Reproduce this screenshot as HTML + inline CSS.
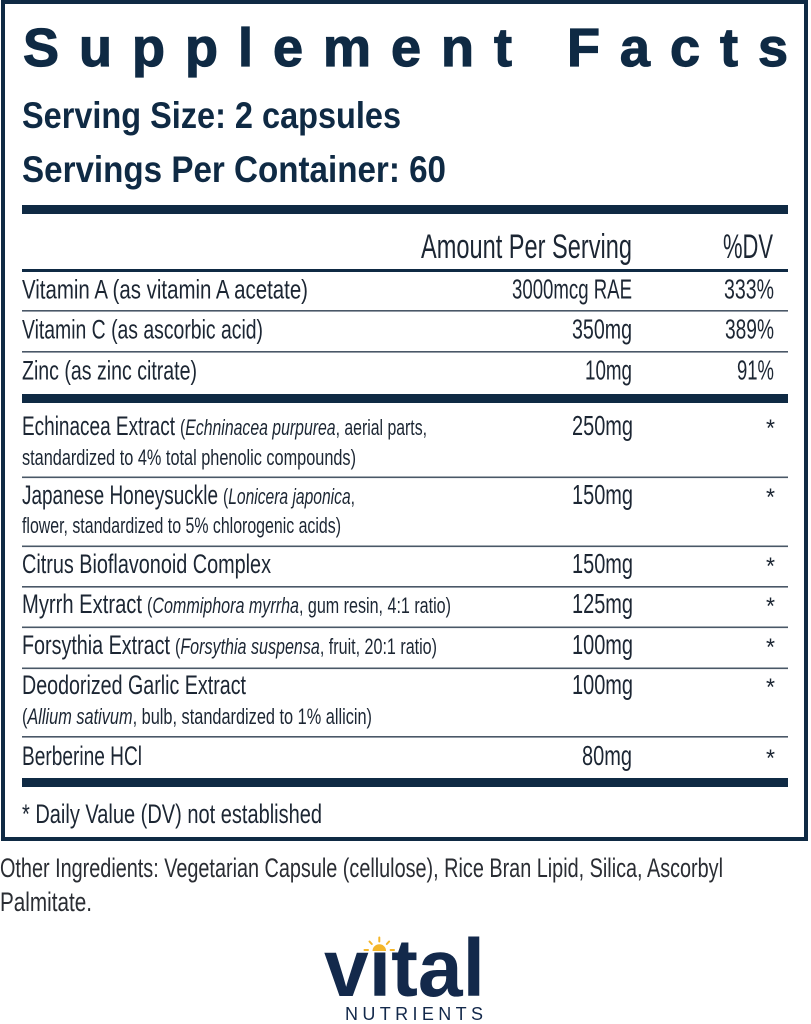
<!DOCTYPE html>
<html>
<head>
<meta charset="utf-8">
<style>
  html,body{margin:0;padding:0;background:#fff;}
  svg{display:block;}
  text{font-family:"Liberation Sans",sans-serif;}
</style>
</head>
<body>
<svg width="811" height="1024" viewBox="0 0 811 1024" xmlns="http://www.w3.org/2000/svg">
  <rect x="0" y="0" width="811" height="1024" fill="#ffffff"/>
  <!-- outer box -->
  <rect x="3" y="2" width="803" height="837" fill="none" stroke="#0f2a44" stroke-width="4"/>

  <!-- Title -->
  <text x="23" y="66" font-size="54" font-weight="bold" fill="#0f2a44" stroke="#0f2a44" stroke-width="1.2" textLength="765" lengthAdjust="spacing">Supplement Facts</text>

  <text x="22" y="128" font-size="37" font-weight="bold" fill="#0f2a44" textLength="379" lengthAdjust="spacingAndGlyphs">Serving Size: 2 capsules</text>
  <text x="22" y="182" font-size="37" font-weight="bold" fill="#0f2a44" textLength="424" lengthAdjust="spacingAndGlyphs">Servings Per Container: 60</text>

  <!-- rules -->
  <rect x="22" y="205" width="766" height="9" fill="#0f2a44"/>
  <rect x="22" y="269" width="766" height="3" fill="#0f2a44"/>
  <rect x="22" y="310" width="766" height="1.6" fill="#4a5867"/>
  <rect x="22" y="351" width="766" height="1.6" fill="#4a5867"/>
  <rect x="22" y="394" width="766" height="9" fill="#0f2a44"/>
  <rect x="22" y="476.5" width="766" height="1.6" fill="#4a5867"/>
  <rect x="22" y="545.5" width="766" height="1.6" fill="#4a5867"/>
  <rect x="22" y="586" width="766" height="1.6" fill="#4a5867"/>
  <rect x="22" y="626.5" width="766" height="1.6" fill="#4a5867"/>
  <rect x="22" y="667.5" width="766" height="1.6" fill="#4a5867"/>
  <rect x="22" y="736" width="766" height="1.6" fill="#4a5867"/>
  <rect x="22" y="778" width="766" height="9" fill="#0f2a44"/>

  <g fill="#1c2633">
    <!-- header -->
    <text x="421" y="258" font-size="34" textLength="211" lengthAdjust="spacingAndGlyphs">Amount Per Serving</text>
    <text x="723" y="258" font-size="34" textLength="50" lengthAdjust="spacingAndGlyphs">%DV</text>

    <!-- vitamins -->
    <text x="22" y="298.5" font-size="27" textLength="286" lengthAdjust="spacingAndGlyphs">Vitamin A (as vitamin A acetate)</text>
    <text x="512" y="298.5" font-size="28" textLength="120" lengthAdjust="spacingAndGlyphs">3000mcg RAE</text>
    <text x="724" y="298.5" font-size="28" textLength="50" lengthAdjust="spacingAndGlyphs">333%</text>

    <text x="22" y="338.5" font-size="27" textLength="241" lengthAdjust="spacingAndGlyphs">Vitamin C (as ascorbic acid)</text>
    <text x="572" y="338.5" font-size="28" textLength="60" lengthAdjust="spacingAndGlyphs">350mg</text>
    <text x="725" y="338.5" font-size="28" textLength="49" lengthAdjust="spacingAndGlyphs">389%</text>

    <text x="22" y="379.5" font-size="27" textLength="175" lengthAdjust="spacingAndGlyphs">Zinc (as zinc citrate)</text>
    <text x="585" y="379.5" font-size="28" textLength="47" lengthAdjust="spacingAndGlyphs">10mg</text>
    <text x="737" y="379.5" font-size="28" textLength="37" lengthAdjust="spacingAndGlyphs">91%</text>

    <!-- Echinacea -->
    <text x="22" y="435" font-size="27" textLength="153" lengthAdjust="spacingAndGlyphs">Echinacea Extract</text>
    <text x="180" y="435" font-size="22" textLength="247" lengthAdjust="spacingAndGlyphs">(<tspan font-style="italic">Echninacea purpurea</tspan>, aerial parts,</text>
    <text x="22" y="465" font-size="22" textLength="334" lengthAdjust="spacingAndGlyphs">standardized to 4% total phenolic compounds)</text>
    <text x="572" y="435" font-size="28" textLength="61" lengthAdjust="spacingAndGlyphs">250mg</text>

    <!-- Japanese Honeysuckle -->
    <text x="22" y="504" font-size="27" textLength="196" lengthAdjust="spacingAndGlyphs">Japanese Honeysuckle</text>
    <text x="223" y="504" font-size="22" textLength="132" lengthAdjust="spacingAndGlyphs">(<tspan font-style="italic">Lonicera japonica</tspan>,</text>
    <text x="22" y="533" font-size="22" textLength="319" lengthAdjust="spacingAndGlyphs">flower, standardized to 5% chlorogenic acids)</text>
    <text x="572" y="504" font-size="28" textLength="61" lengthAdjust="spacingAndGlyphs">150mg</text>

    <!-- Citrus -->
    <text x="22" y="573" font-size="27" textLength="249" lengthAdjust="spacingAndGlyphs">Citrus Bioflavonoid Complex</text>
    <text x="572" y="573" font-size="28" textLength="61" lengthAdjust="spacingAndGlyphs">150mg</text>

    <!-- Myrrh -->
    <text x="22" y="613" font-size="27" textLength="120" lengthAdjust="spacingAndGlyphs">Myrrh Extract</text>
    <text x="147" y="613" font-size="22" textLength="304" lengthAdjust="spacingAndGlyphs">(<tspan font-style="italic">Commiphora myrrha</tspan>, gum resin, 4:1 ratio)</text>
    <text x="572" y="613" font-size="28" textLength="61" lengthAdjust="spacingAndGlyphs">125mg</text>

    <!-- Forsythia -->
    <text x="22" y="654" font-size="27" textLength="148" lengthAdjust="spacingAndGlyphs">Forsythia Extract</text>
    <text x="175" y="654" font-size="22" textLength="262" lengthAdjust="spacingAndGlyphs">(<tspan font-style="italic">Forsythia suspensa</tspan>, fruit, 20:1 ratio)</text>
    <text x="572" y="654" font-size="28" textLength="61" lengthAdjust="spacingAndGlyphs">100mg</text>

    <!-- Garlic -->
    <text x="22" y="694" font-size="27" textLength="224" lengthAdjust="spacingAndGlyphs">Deodorized Garlic Extract</text>
    <text x="22" y="724" font-size="22" textLength="350" lengthAdjust="spacingAndGlyphs">(<tspan font-style="italic">Allium sativum</tspan>, bulb, standardized to 1% allicin)</text>
    <text x="572" y="694" font-size="28" textLength="61" lengthAdjust="spacingAndGlyphs">100mg</text>

    <!-- Berberine -->
    <text x="22" y="765" font-size="27" textLength="120" lengthAdjust="spacingAndGlyphs">Berberine HCl</text>
    <text x="582" y="765" font-size="28" textLength="50" lengthAdjust="spacingAndGlyphs">80mg</text>

    <!-- asterisks -->
    <g font-size="24">
      <text x="766" y="436" textLength="9" lengthAdjust="spacingAndGlyphs">*</text>
      <text x="766" y="505" textLength="9" lengthAdjust="spacingAndGlyphs">*</text>
      <text x="766" y="574" textLength="9" lengthAdjust="spacingAndGlyphs">*</text>
      <text x="766" y="614" textLength="9" lengthAdjust="spacingAndGlyphs">*</text>
      <text x="766" y="655" textLength="9" lengthAdjust="spacingAndGlyphs">*</text>
      <text x="766" y="695" textLength="9" lengthAdjust="spacingAndGlyphs">*</text>
      <text x="766" y="766" textLength="9" lengthAdjust="spacingAndGlyphs">*</text>
    </g>

    <text x="22" y="823" font-size="27" textLength="300" lengthAdjust="spacingAndGlyphs">* Daily Value (DV) not established</text>
  </g>

  <!-- Other ingredients -->
  <g fill="#2a2d33">
    <text x="0" y="877" font-size="27" textLength="723" lengthAdjust="spacingAndGlyphs">Other Ingredients: Vegetarian Capsule (cellulose), Rice Bran Lipid, Silica, Ascorbyl</text>
    <text x="0" y="911" font-size="27" textLength="92" lengthAdjust="spacingAndGlyphs">Palmitate.</text>
  </g>

  <!-- Logo -->
  <text x="324" y="996" font-size="82" font-weight="bold" fill="#13294b" textLength="161" lengthAdjust="spacingAndGlyphs">vital</text>
  <!-- cover i dot -->
  <rect x="369" y="928" width="21" height="23" fill="#ffffff"/>
  <!-- sun -->
  <path d="M372.5 951 A6.8 6.8 0 0 1 386.1 951 Z" fill="#f4b62a"/>
  <g stroke="#f4b62a" stroke-width="2" stroke-linecap="round">
    <line x1="379.3" y1="937.5" x2="379.3" y2="941.5"/>
    <line x1="369.5" y1="941.5" x2="371.8" y2="944"/>
    <line x1="389.1" y1="941.5" x2="386.8" y2="944"/>
    <line x1="364.5" y1="950" x2="368" y2="950"/>
    <line x1="390.6" y1="950" x2="394" y2="950"/>
  </g>
  <text x="345" y="1020" font-size="18" fill="#13294b" textLength="138" lengthAdjust="spacing">NUTRIENTS</text>
</svg>
</body>
</html>
